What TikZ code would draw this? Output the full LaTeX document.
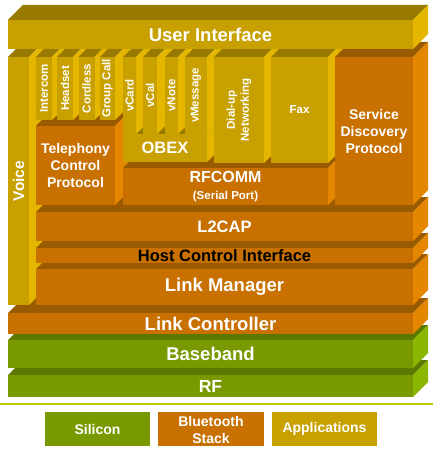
\documentclass[tikz,border=0pt]{standalone}
\usepackage{fontspec}
\setmainfont{Liberation Sans}
\definecolor{appfront}{RGB}{200,160,0}
\definecolor{apptop}{RGB}{153,122,0}
\definecolor{appside}{RGB}{228,182,0}
\definecolor{btfront}{RGB}{200,112,0}
\definecolor{bttop}{RGB}{153,90,0}
\definecolor{btside}{RGB}{228,134,0}
\definecolor{sifront}{RGB}{120,154,0}
\definecolor{sitop}{RGB}{92,120,0}
\definecolor{siside}{RGB}{138,182,0}
\definecolor{sepline}{RGB}{196,200,0}
% block: options, name, x1, y1, x2, y2, colour, text
\newcommand{\blok}[8]{%
  \fill[#7top] (#3,#4) -- ++(15,-15) -- ({#5+15},{#4-15}) -- (#5,#4) -- cycle;
  \fill[#7side] (#5,#4) -- ++(15,-15) -- ({#5+15},{#6-15}) -- (#5,#6) -- cycle;
  \fill[#7front] (#3,#4) rectangle (#5,#6);
  \node[lbl,#1] (#2) at ({(#3+#5)/2},{(#4+#6)/2}) {#8};
}
\begin{document}
\begin{tikzpicture}[x=1pt,y=-1pt,
  lbl/.style={text=white,align=center,inner sep=0pt},
  sz/.style args={#1/#2}{font=\bfseries\fontsize{#1}{#2}\selectfont}]
\useasboundingbox (0,0) rectangle (433,449);

% silicon
\blok{sz=17.5/20}{rf}{8}{375}{413}{397}{si}{RF}
\blok{sz=18.5/22}{baseband}{8}{340}{413}{368}{si}{Baseband}
% stack
\blok{sz=18.5/22}{lc}{8}{313}{413}{334}{bt}{Link Controller}
\blok{sz=15.5/18,rotate=90}{voice}{8}{57}{29}{305}{app}{Voice}
\blok{sz=18.5/22}{lm}{36}{269}{413}{305}{bt}{Link Manager}
\blok{sz=16.5/19,text=black}{hci}{36}{248}{413}{263}{bt}{Host Control Interface}
\blok{sz=16.5/19}{l2cap}{36}{212}{413}{241}{bt}{L2CAP}
\blok{sz=14/17}{tcp}{36}{126}{115}{205}{bt}{Telephony\\Control\\Protocol}
\blok{sz=16/17}{rfcomm}{123}{168}{328}{205}{bt}{RFCOMM\\{\fontsize{11.5}{13}\selectfont(Serial Port)}}
\blok{sz=16.5/19}{obex}{123}{134}{207}{162}{app}{OBEX}

% profiles
\blok{sz=11.5/13,rotate=90}{intercom}{36}{57}{52}{120}{app}{Intercom}
\blok{sz=11.5/13,rotate=90}{headset}{57}{57}{73}{120}{app}{Headset}
\blok{sz=11.5/13,rotate=90}{cordless}{78.5}{57}{94.5}{120}{app}{Cordless}
\blok{sz=11.5/13,rotate=90}{groupcall}{100}{57}{115}{120}{app}{Group Call}
\blok{sz=11.5/13,rotate=90}{vcard}{123}{57}{136}{134}{app}{vCard}
\blok{sz=11.5/13,rotate=90}{vcal}{143}{57}{157}{134}{app}{vCal}
\blok{sz=11.5/13,rotate=90}{vnote}{165}{57}{178}{134}{app}{vNote}
\blok{sz=11.5/13,rotate=90}{vmessage}{185}{57}{207}{134}{app}{vMessage}
\blok{sz=11.5/14,rotate=90}{dialup}{214}{57}{264}{163}{app}{Dial-up\\Networking}
\blok{sz=11.5/13}{fax}{271}{57}{328}{163}{app}{Fax}
\blok{sz=14/17}{sdp}{335}{57}{413}{205}{bt}{Service\\Discovery\\Protocol}
\blok{sz=18.5/22}{ui}{8}{20}{413}{49}{app}{User Interface}

% legend
\draw[sepline,line width=1.2pt] (0,404) -- (433,404);
\fill[sifront] (45,412) rectangle (150,446);
\node[lbl,sz=14/17] (silicon) at (97.5,429) {Silicon};
\fill[btfront] (158,412) rectangle (264,446);
\node[lbl,sz=14/17] (btstack) at (211,429.5) {Bluetooth\\Stack};
\fill[appfront] (272,412) rectangle (377,446);
\node[lbl,sz=14/17] (apps) at (324.5,429) {Applications};
\end{tikzpicture}
\end{document}
